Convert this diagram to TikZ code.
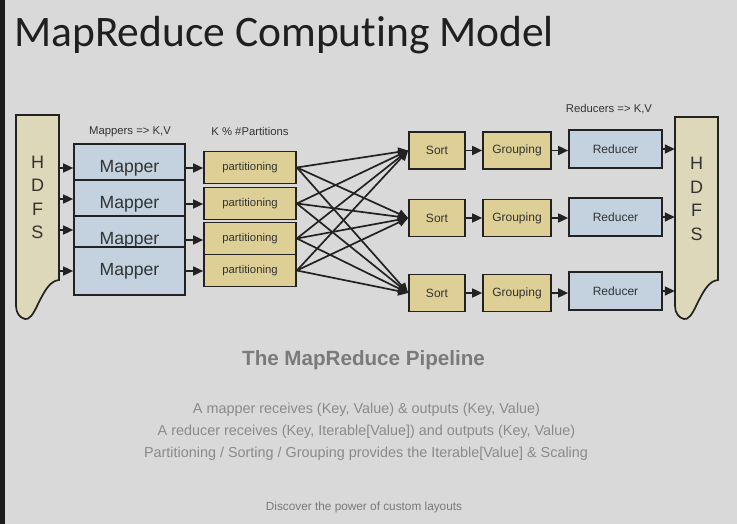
\documentclass[tikz,border=0pt]{standalone}
\usepackage{fontspec}
\setmainfont{Liberation Sans}
\newfontfamily\titlefont[Ligatures=NoCommon]{Carlito}
\usepackage{xcolor}
\usetikzlibrary{arrows.meta}

\definecolor{slidebg}{HTML}{D9D9D9}
\definecolor{sidebar}{HTML}{1C1C1C}
\definecolor{boxline}{HTML}{222222}
\definecolor{hdfsfill}{HTML}{DDD8B9}
\definecolor{tanfill}{HTML}{DDCF95}
\definecolor{mapblue}{HTML}{C3D2DE}
\definecolor{textgray}{HTML}{333333}
\definecolor{pipegray}{HTML}{7A7A7A}
\definecolor{notegray}{HTML}{8A8A8A}

\begin{document}
\begin{tikzpicture}[x=1pt,y=-1pt,
    box/.style={draw=boxline,line width=1.7pt,text=textgray,inner sep=0pt},
    mapper/.style={box,fill=mapblue,minimum width=111pt,minimum height=48pt,font=\fontsize{17.6}{20}\selectfont},
    part/.style={box,fill=tanfill,minimum width=92pt,minimum height=32pt,font=\fontsize{11.3}{13}\selectfont},
    sortbox/.style={box,fill=tanfill,minimum width=56pt,minimum height=37pt,font=\fontsize{12}{14}\selectfont},
    groupbox/.style={box,fill=tanfill,minimum width=68pt,minimum height=37pt,font=\fontsize{12}{14}\selectfont},
    reducer/.style={box,fill=mapblue,minimum width=93pt,minimum height=38pt,font=\fontsize{12}{14}\selectfont},
    hdfs/.style={minimum width=43pt,inner sep=0pt,align=center,text=textgray,font=\fontsize{18}{23.5}\selectfont},
    hdfsline/.style={draw=boxline,line width=1.7pt,fill=hdfsfill},
    lbl/.style={text=textgray,font=\fontsize{11.3}{13}\selectfont},
    note/.style={anchor=base,text=notegray,font=\fontsize{14.4}{17}\selectfont},
    flow/.style={draw=boxline,line width=1.7pt,-{Triangle[length=10pt,width=9pt]}}]

    % slide background
    \fill[slidebg] (0,0) rectangle (737,524);
    \fill[sidebar] (0,0) rectangle (5,524);

    \node[anchor=base west,inner sep=0pt,font=\titlefont\fontsize{43.5}{52}\selectfont,text=black!88] (title) at (14,47) {MapReduce Computing Model};

    % HDFS source and sink
    \draw[hdfsline] (16,115) -- (59,115) -- (59,280) .. controls (50,281) and (45,290) .. (38,304)
        .. controls (33,315) and (29,320) .. (25,319) .. controls (20,318) and (16,313) .. (16,306) -- cycle;
    \draw[hdfsline] (675,117) -- (718,117) -- (718,280) .. controls (709,281) and (704,290) .. (697,304)
        .. controls (692,315) and (688,320) .. (684,319) .. controls (679,318) and (675,313) .. (675,306) -- cycle;
    \node[hdfs,minimum height=165pt] (hdfsL) at (37.5,197.5) {H\\D\\F\\S};
    \node[hdfs,minimum height=163pt] (hdfsR) at (696.5,199) {H\\D\\F\\S};

    % mappers
    \node[mapper] (m1) at (129.5,168) {Mapper};
    \node[mapper] (m2) at (129.5,204) {Mapper};
    \node[mapper] (m3) at (129.5,240) {Mapper};
    \node[mapper] (m4) at (129.5,271) {Mapper};
    \node[lbl] (maplbl) at (130,132) {Mappers => K,V};

    % partitioning
    \node[part] (p1) at (250,167.5) {partitioning};
    \node[part] (p2) at (250,203.5) {partitioning};
    \node[part] (p3) at (250,238.5) {partitioning};
    \node[part] (p4) at (250,270.5) {partitioning};
    \node[lbl] (partlbl) at (250,131) {K \% \#Partitions};

    % sort, grouping, reduce
    \node[sortbox] (s1) at (437,150.5) {Sort};
    \node[sortbox] (s2) at (437,218) {Sort};
    \node[sortbox] (s3) at (437,293) {Sort};
    \node[groupbox] (g1) at (517,150.5) {Grouping};
    \node[groupbox] (g2) at (517,218) {Grouping};
    \node[groupbox] (g3) at (517,293) {Grouping};
    \node[reducer] (r1) at (615.5,149) {Reducer};
    \node[reducer] (r2) at (615.5,217) {Reducer};
    \node[reducer] (r3) at (615.5,291) {Reducer};
    \node[lbl] (redlbl) at (609,109) {Reducers => K,V};

    % input arrows
    \coordinate (in2) at ([yshift=5pt]m2.west);
    \coordinate (in3) at ([yshift=10pt]m3.west);
    \draw[flow] (hdfsL.east |- m1.west) -- (m1.west);
    \draw[flow] (hdfsL.east |- in2) -- (in2);
    \draw[flow] (hdfsL.east |- in3) -- (in3);
    \draw[flow] (hdfsL.east |- m4.west) -- (m4.west);

    \draw[flow] (m1.east) -- (m1.east -| p1.west);
    \draw[flow] (m2.east) -- (m2.east -| p2.west);
    \draw[flow] (m3.east) -- (m3.east -| p3.west);
    \draw[flow] (m4.east) -- (m4.east -| p4.west);

    % shuffle
    \foreach \p in {p1,p2,p3,p4}
        \foreach \s in {s1,s2,s3}
            \draw[flow] (\p.east) -- (\s.west);

    \draw[flow] (s1.east) -- (g1.west);
    \draw[flow] (s2.east) -- (g2.west);
    \draw[flow] (s3.east) -- (g3.west);
    \draw[flow] (g1.east) -- (g1.east -| r1.west);
    \draw[flow] (g2.east) -- (g2.east -| r2.west);
    \draw[flow] (g3.east) -- (g3.east -| r3.west);
    \draw[flow] (r1.east) -- (r1.east -| hdfsR.west);
    \draw[flow] (r2.east) -- (r2.east -| hdfsR.west);
    \draw[flow] (r3.east) -- (r3.east -| hdfsR.west);

    % caption
    \node[anchor=base,text=pipegray,font=\bfseries\fontsize{20.6}{24}\selectfont] (pipe) at (363.5,365) {The MapReduce Pipeline};
    \node[note] (note1) at (366.5,413) {A mapper receives (Key, Value) \& outputs (Key, Value)};
    \node[note] (note2) at (366.5,435) {A reducer receives (Key, Iterable[Value]) and outputs (Key, Value)};
    \node[note] (note3) at (366,457) {Partitioning / Sorting / Grouping provides the Iterable[Value] \& Scaling};
    \node[anchor=base,text=pipegray,font=\fontsize{11.8}{14}\selectfont] (footer) at (364,510) {Discover the power of custom layouts};
\end{tikzpicture}
\end{document}
